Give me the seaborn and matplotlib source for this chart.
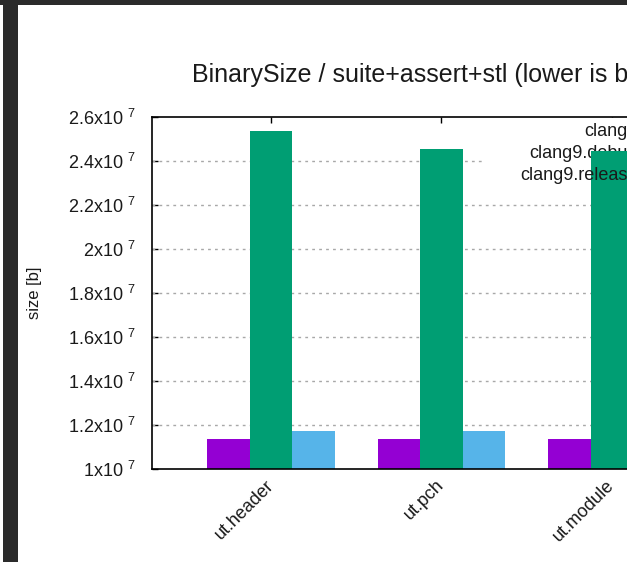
import matplotlib
matplotlib.use("Agg")
import matplotlib.pyplot as plt
from matplotlib.patches import Rectangle
import seaborn as sns
import pandas as pd

categories = ["ut.header", "ut.pch", "ut.module"]
series = ["clang9", "clang9.debug", "clang9.release"]
clang9 = [1.136e7, 1.136e7, 1.136e7]
clang9_debug = [2.536e7, 2.455e7, 2.445e7]
clang9_release = [1.173e7, 1.173e7, 1.173e7]
yticks = [1.0e7, 1.2e7, 1.4e7, 1.6e7, 1.8e7, 2.0e7, 2.2e7, 2.4e7, 2.6e7]
ytick_labels = ["1x10 $^{7}$", "1.2x10 $^{7}$", "1.4x10 $^{7}$", "1.6x10 $^{7}$",
                "1.8x10 $^{7}$", "2x10 $^{7}$", "2.2x10 $^{7}$", "2.4x10 $^{7}$",
                "2.6x10 $^{7}$"]
colors = ["#9400d3", "#009e73", "#56b4e9"]
title = "BinarySize / suite+assert+stl (lower is better)"

sns.set_theme(style="white")
plt.rcParams["font.family"] = ["Liberation Sans", "DejaVu Sans"]
plt.rcParams["mathtext.fontset"] = "custom"
plt.rcParams["mathtext.rm"] = "Liberation Sans"
plt.rcParams["mathtext.default"] = "regular"

rows = []
for name, vals in zip(series, [clang9, clang9_debug, clang9_release]):
    for c, v in zip(categories, vals):
        rows.append({"test": c, "compiler": name, "size": v})
df = pd.DataFrame(rows)

W, H = 627, 562
fig = plt.figure(figsize=(W / 100, H / 100), dpi=100, facecolor="white")

def fx(px):
    return px / W

def fy(py):
    return 1 - py / H

ax = fig.add_axes([fx(152), fy(469), fx(731) - fx(152), fy(117) - fy(469)])
sns.barplot(data=df, x="test", y="size", hue="compiler", order=categories,
            hue_order=series, palette=colors, saturation=1, width=0.75, gap=0,
            edgecolor="none", linewidth=0, legend=False, ax=ax, zorder=3,
            errorbar=None)
ax.set_xlim(-0.7, 2.7)
ax.set_ylim(1.0e7, 2.6e7)
ax.set_yticks(yticks)
ax.set_yticklabels(ytick_labels, fontsize=13, color="#1a1a1a")
ax.set_xticks(range(len(categories)))
ax.set_xticklabels(categories, rotation=45, ha="right", va="center",
                   rotation_mode="anchor", fontsize=13, color="#1a1a1a")
ax.tick_params(axis="y", direction="in", length=4, width=1, left=True,
               right=True, pad=12, color="black")
ax.tick_params(axis="x", direction="in", length=4, width=1, bottom=False,
               top=True, pad=10, color="black")
ax.set_xlabel("")
ax.set_ylabel("")
for s in ax.spines.values():
    s.set_color("black")
    s.set_linewidth(1.2)
    s.set_zorder(4)

for yv in yticks[1:-1]:
    ax.axhline(yv, color="#a8a8a8", linewidth=1, zorder=1, dashes=(2, 3))

# legend area (opaque box, text right-aligned)
ax.add_patch(Rectangle((fx(483), fy(188)), fx(800) - fx(483), fy(118) - fy(188),
                       transform=fig.transFigure, facecolor="white",
                       edgecolor="none", zorder=1.5, clip_on=False))
leg_y = [131, 154, 176]
for i, (name, yy) in enumerate(zip(series, leg_y)):
    ax.text(fx(638), fy(yy), name, ha="right", va="center", fontsize=13,
            color="#1a1a1a", transform=fig.transFigure, clip_on=False,
            zorder=(2 if i < 2 else 5))

fig.text(fx(192), fy(75), title, ha="left", va="center", fontsize=18,
         color="#1a1a1a")
fig.text(fx(34), fy(293), "size [b]", rotation=90, ha="center", va="center",
         fontsize=12, color="#1a1a1a")

# dark frame of the screenshot
fig.add_artist(Rectangle((0, fy(5)), 1, fy(0) - fy(5), transform=fig.transFigure,
                         facecolor="#2b2b2b", edgecolor="none", zorder=10))
fig.add_artist(Rectangle((fx(3), 0), fx(18) - fx(3), 1, transform=fig.transFigure,
                         facecolor="#2b2b2b", edgecolor="none", zorder=10))

fig.savefig("out.png", dpi=100, facecolor="white")
